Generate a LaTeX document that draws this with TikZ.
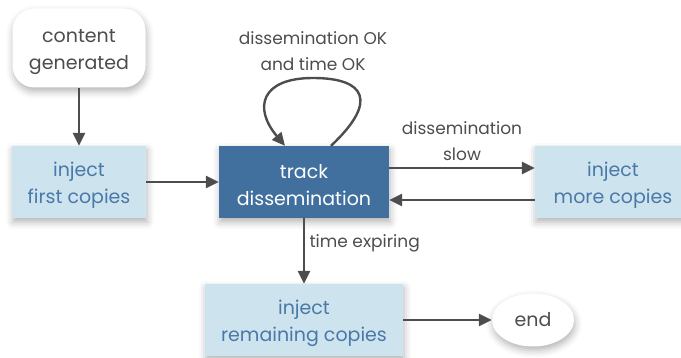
\documentclass[tikz,border=0pt]{standalone}
\usepackage{fontspec}
\setmainfont{Poppins}
\usetikzlibrary{arrows.meta,shadows.blur,shapes.geometric}

\definecolor{lineclr}{HTML}{4D4D4D}
\definecolor{boxblue}{HTML}{CDE4EF}
\definecolor{textblue}{HTML}{4A78A8}
\definecolor{darkblue}{HTML}{41709F}

% extra height on the first line, to lower two-line texts a little
\newcommand{\toprow}{\rule{0pt}{21pt}}

\begin{document}
\begin{tikzpicture}[x=1pt, y=-1pt, font=\fontsize{19}{27}\selectfont,
    shade/.style = {blur shadow={shadow xshift=1pt, shadow yshift=-4pt, shadow blur radius=7pt, shadow opacity=30}},
    state/.style = {fill=boxblue, text=textblue, align=center, minimum height=72pt, inner sep=0pt, shade},
    active/.style = {fill=darkblue, text=white, align=center, minimum height=72pt, inner sep=0pt, shade},
    terminal/.style = {fill=white, text=lineclr, align=center, inner sep=0pt, shade},
    arr/.style = {draw=lineclr, line width=2.4pt, -{Triangle[length=13pt, width=12pt]}},
    lbl/.style = {text=lineclr, align=center, font=\fontsize{17}{26}\selectfont},
]
    \useasboundingbox (0,0) rectangle (681,358);

    \node[terminal, rounded corners=22pt, minimum width=133pt, minimum height=79pt] (C) at (79,48) {\toprow content\\generated};
    \node[state, minimum width=134pt] (F) at (79,182) {\toprow inject\\first copies};
    \node[active, minimum width=170pt] (T) at (304,182) {\toprow track\\dissemination};
    \node[state, minimum width=156pt] (M) at (613,182) {\toprow inject\\more copies};
    \node[state, minimum width=198pt] (R) at (304,320) {\toprow inject\\remaining copies};
    \node[terminal, ellipse, minimum width=82pt, minimum height=53pt] (E) at (533,320) {end};

    \draw[arr] (C) -- (F);
    \draw[arr] (F) -- (T);
    \draw[arr] ([xshift=27pt]T.north) .. controls +(48,-45) and +(52,0) .. (313,78)
        node[lbl, above=3pt] {dissemination OK\\and time OK}
        .. controls +(-52,0) and +(-32,-38) .. ([xshift=-19pt]T.north);
    \draw[arr] ([yshift=14pt]T.east) -- node[lbl, above=3pt] {dissemination\\slow} ([yshift=14pt]M.west);
    \draw[arr] ([yshift=-18pt]M.west) -- ([yshift=-18pt]T.east);
    \draw[arr] (T) -- node[lbl, right=1pt, pos=0.38] {time expiring} (R);
    \draw[arr] (R) -- (E);

\end{tikzpicture}
\end{document}
